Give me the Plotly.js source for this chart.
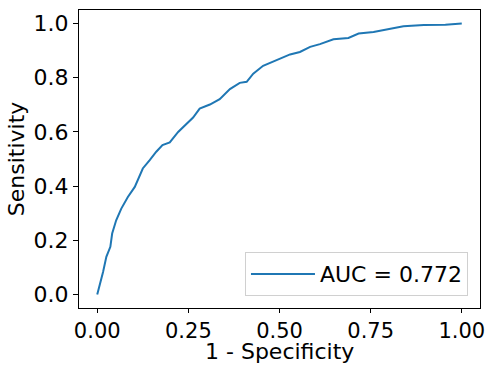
<!DOCTYPE html>
<html>
<head>
<meta charset="utf-8">
<script src="https://cdn.plot.ly/plotly-3.0.1.min.js"></script>
<style>html,body{margin:0;padding:0;background:#fff;}#chart{width:486px;height:365px;}</style>
</head>
<body>
<div id="chart"></div>
<script>
const fpr = [0.000, 0.008, 0.016, 0.025, 0.036, 0.041, 0.052, 0.066, 0.084, 0.103, 0.116, 0.125, 0.144, 0.162, 0.179, 0.199, 0.222, 0.245, 0.263, 0.281, 0.309, 0.336, 0.364, 0.391, 0.410, 0.428, 0.455, 0.492, 0.529, 0.556, 0.584, 0.611, 0.648, 0.689, 0.717, 0.758, 0.795, 0.840, 0.896, 0.955, 1.000];
const tpr = [0.000, 0.040, 0.083, 0.139, 0.176, 0.225, 0.274, 0.317, 0.360, 0.397, 0.434, 0.465, 0.496, 0.527, 0.551, 0.561, 0.600, 0.631, 0.653, 0.686, 0.701, 0.721, 0.758, 0.781, 0.785, 0.815, 0.844, 0.865, 0.886, 0.895, 0.914, 0.924, 0.942, 0.947, 0.963, 0.969, 0.978, 0.990, 0.995, 0.996, 1.000];
const aucLabel = 'AUC = 0.772';
const xTitle = '1 - Specificity';
const yTitle = 'Sensitivity';

const font = {family: 'DejaVu Sans', size: 22, color: '#000'};
const xtickfont = {family: 'DejaVu Sans', size: 21, color: '#000'};
const axisCommon = {
  showline: true, mirror: true, linecolor: '#000', linewidth: 1,
  ticks: 'outside', ticklen: 5, tickwidth: 1, tickcolor: '#000',
  showgrid: false, zeroline: false, tickfont: font, ticklabeloverflow: 'allow'
};
Plotly.newPlot('chart', [{
  x: fpr, y: tpr, type: 'scatter', mode: 'lines',
  line: {color: '#1f77b4', width: 2}, name: aucLabel
}], {
  width: 486, height: 365,
  margin: {l: 79, r: 6, t: 10, b: 57},
  paper_bgcolor: '#fff', plot_bgcolor: '#fff',
  font: font,
  showlegend: true,
  legend: {x: 0.97, y: 0.04, xanchor: 'right', yanchor: 'bottom',
    bordercolor: '#d0d0d0', borderwidth: 1, bgcolor: '#fff', font: font, itemwidth: 64},
  xaxis: Object.assign({}, axisCommon, {range: [-0.05, 1.05], tickvals: [0, 0.25, 0.5, 0.75, 1], tickformat: '.2f', ticklen: 4, tickfont: xtickfont}),
  yaxis: Object.assign({}, axisCommon, {range: [-0.05, 1.05], tickvals: [0, 0.2, 0.4, 0.6, 0.8, 1], tickformat: '.1f',
    title: {text: yTitle, font: font, standoff: 2}}),
  annotations: [{text: xTitle, font: font, showarrow: false, xref: 'paper', yref: 'paper',
    x: 0.5, y: -0.1913, xanchor: 'center', yanchor: 'bottom', borderpad: 0}]
}, {staticPlot: true});
</script>
</body>
</html>
